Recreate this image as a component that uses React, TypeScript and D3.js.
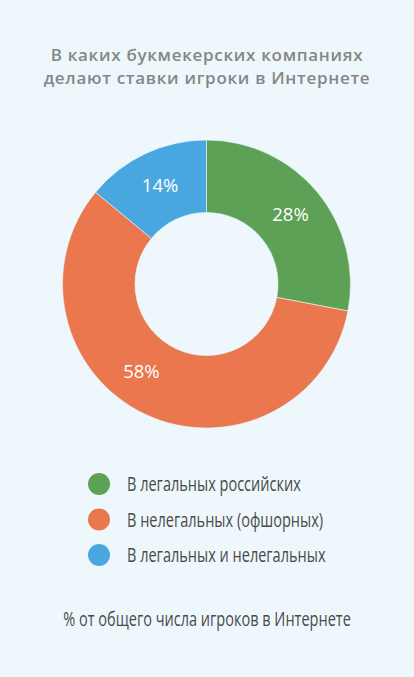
import { useEffect, useRef } from 'react';
import * as d3 from 'd3';

// Data
const categories = ['В легальных российских', 'В нелегальных (офшорных)', 'В легальных и нелегальных'];
const shares = [28, 58, 14];
const colors = ['#5ca155', '#ea774d', '#49a7e0'];
const titleLines = ['В каких букмекерских компаниях', 'делают ставки игроки в Интернете'];
const footnote = '% от общего числа игроков в Интернете';

const W = 414;
const H = 677;
const narrow = 0.745; // the legend font is a condensed face, squeeze a regular one

function App() {
  const ref = useRef(null);

  useEffect(() => {
    const svg = d3.select(ref.current);
    svg.selectAll('*').remove();

    svg.append('rect').attr('width', W).attr('height', H).attr('fill', '#eef8fc');

    // Title
    svg
      .append('g')
      .selectAll('text')
      .data(titleLines)
      .join('text')
      .attr('x', W / 2)
      .attr('y', (_, i) => 61 + i * 23)
      .attr('text-anchor', 'middle')
      .attr('font-family', "'Open Sans', sans-serif")
      .attr('font-weight', 600)
      .attr('font-size', 17)
      .attr('letter-spacing', 0.7)
      .attr('fill', '#868686')
      .text((d) => d);

    // Donut
    const cx = 206.5;
    const cy = 284;
    const pie = d3.pie<number>().sort(null).value((d) => d);
    const arcs = pie(shares);
    const arc = d3.arc<any>().innerRadius(71.5).outerRadius(144);
    const labelArc = d3.arc<any>().innerRadius(109).outerRadius(109);

    const g = svg.append('g').attr('transform', `translate(${cx},${cy})`);
    g.selectAll('path')
      .data(arcs)
      .join('path')
      .attr('d', arc)
      .attr('fill', (_, i) => colors[i])
      .attr('stroke', '#eef8fc')
      .attr('stroke-width', 0.6);

    g.selectAll('text')
      .data(arcs)
      .join('text')
      .attr('transform', (d, i) => {
        // the big slice's label sits a bit further round in the original
        const shift = i === 1 ? 0.2 : 0;
        const [x, y] = labelArc.centroid({ ...d, startAngle: d.startAngle + shift, endAngle: d.endAngle + shift });
        return `translate(${x},${y})`;
      })
      .attr('text-anchor', 'middle')
      .attr('dy', '0.35em')
      .attr('font-family', "'Open Sans', sans-serif")
      .attr('font-size', 18.5)
      .attr('fill', '#ffffff')
      .text((d) => `${d.data}%`);

    // Legend
    const legend = svg
      .append('g')
      .selectAll('g')
      .data(categories)
      .join('g')
      .attr('transform', (_, i) => `translate(99,${484 + i * 35.5})`);
    legend.append('circle').attr('r', 11).attr('fill', (_, i) => colors[i]);
    legend
      .append('text')
      .attr('transform', `translate(28,0) scale(${narrow},1)`)
      .attr('dy', '0.36em')
      .attr('font-family', "'Open Sans', sans-serif")
      .attr('font-size', 19.5)
      .attr('fill', '#4a4a4a')
      .text((d) => d);

    svg
      .append('text')
      .attr('transform', `translate(${W / 2},619) scale(${narrow},1)`)
      .attr('dy', '0.36em')
      .attr('text-anchor', 'middle')
      .attr('font-family', "'Open Sans', sans-serif")
      .attr('font-size', 19.5)
      .attr('fill', '#4a4a4a')
      .text(footnote);
  }, []);

  return (
    <div style={{ position: 'absolute', left: 0, top: 0 }}>
      <svg ref={ref} width={W} height={H} style={{ display: 'block' }} />
    </div>
  );
}

export default App;
